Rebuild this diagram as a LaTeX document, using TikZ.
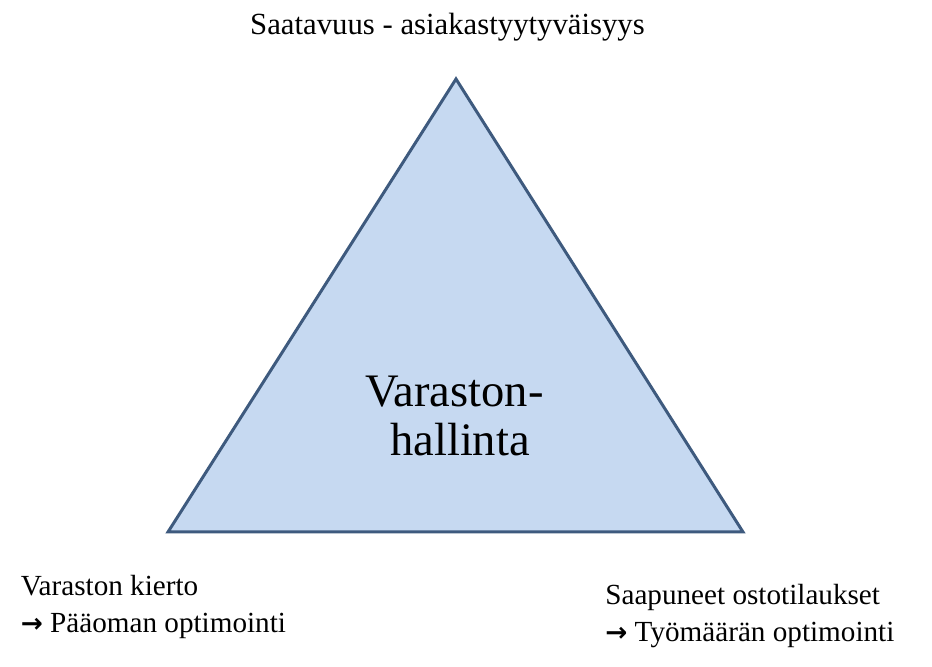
\documentclass[tikz,border=0pt]{standalone}
\usepackage{fontspec}
\setmainfont{Liberation Serif}
\newfontfamily\arrowfont{DejaVu Sans}
\usepackage{tikz}
\usepackage{xcolor}

\definecolor{pohja}{HTML}{C6D9F1}
\definecolor{reuna}{HTML}{3E5A7E}
\newcommand{\nuoli}{{\arrowfont\bfseries\fontsize{15}{18}\selectfont →}}

\tikzset{
    teksti/.style={inner sep=0pt, font=\fontsize{16.6}{20}\selectfont},
    yla/.style={inner sep=0pt, font=\fontsize{17.5}{21}\selectfont},
    otsikko/.style={inner sep=0pt, font=\fontsize{26.5}{30}\selectfont}
}

\begin{document}
\begin{tikzpicture}
        \useasboundingbox (0,0) rectangle (18.64,13.34);

        % Kolmio
        \coordinate (huippu) at (9.12,11.76);
        \coordinate (vasen) at (3.36,2.70);
        \coordinate (oikea) at (14.86,2.70);
        \draw[reuna, fill=pohja, line width=1.7pt, line join=miter](huippu) -- (vasen) -- (oikea) -- cycle;

        % Tekstit
        \path(8.95,12.64) node[yla, anchor=base](saatavuus){Saatavuus - asiakastyytyväisyys};
        \path(9.09,5.20) node[otsikko, anchor=base](varasto){Varaston-};
        \path(9.20,4.22) node[otsikko, anchor=base](hallinta){hallinta};

        \path(0.41,1.42) node[teksti, anchor=base west](kierto){Varaston kierto};
        \path(0.41,0.68) node[teksti, anchor=base west](paaoma){\nuoli{} Pääoman optimointi};

        \path(12.10,1.24) node[teksti, anchor=base west](tilaukset){Saapuneet ostotilaukset};
        \path(12.10,0.50) node[teksti, anchor=base west](tyomaara){\nuoli{} Työmäärän optimointi};
    \end{tikzpicture}
\end{document}
